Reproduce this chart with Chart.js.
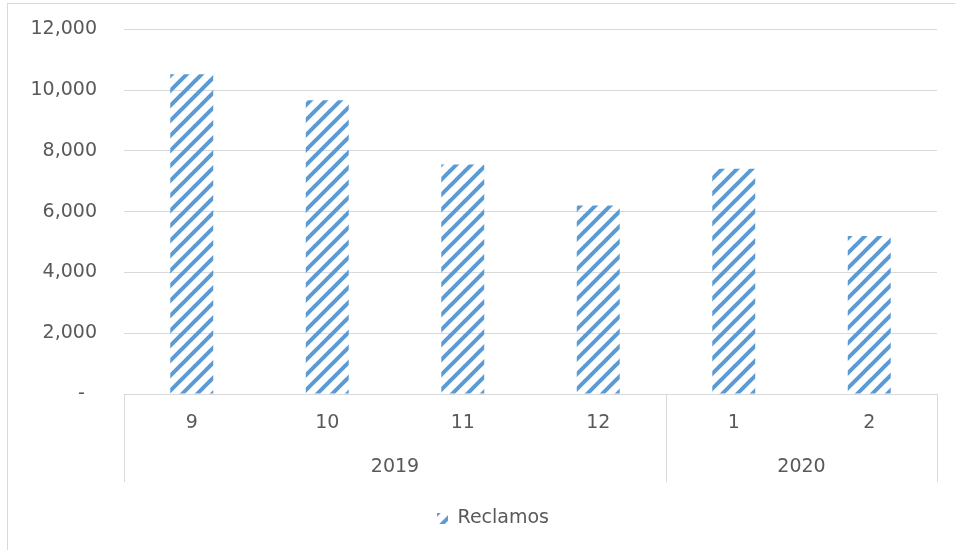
<!DOCTYPE html>
<html>
<head>
<meta charset="utf-8">
<script src="https://cdn.jsdelivr.net/npm/chart.js@4/dist/chart.umd.min.js"></script>
<style>
  html, body { margin: 0; padding: 0; background: #ffffff; overflow: hidden; width: 955px; height: 550px; }
  #frame { position: absolute; left: 7px; top: 3px; width: 1000px; height: 600px; border: 1px solid #d9d9d9; box-sizing: border-box; }
  #c { position: absolute; left: 0; top: -9px; }
</style>
</head>
<body>
<div id="frame"></div>
<canvas id="c" width="955" height="559"></canvas>
<script>
// ---- data ----
const months = ['9', '10', '11', '12', '1', '2'];
const monthYears = ['2019', '2019', '2019', '2019', '2020', '2020'];
const reclamos = [10520, 9670, 7550, 6200, 7410, 5200];
const seriesName = 'Reclamos';
const yTicks = [0, 2000, 4000, 6000, 8000, 10000, 12000];

// ---- year groups derived from monthYears ----
const yearGroups = [];
monthYears.forEach((y, i) => {
  const last = yearGroups[yearGroups.length - 1];
  if (last && last.label === y) { last.end = i; } else { yearGroups.push({ label: y, start: i, end: i }); }
});
// half-slot labels (2n+1 positions, no offset): group centre sits at index start+end+1
const yearSlots = new Array(months.length * 2 + 1).fill('');
yearGroups.forEach(g => { yearSlots[g.start + g.end + 1] = g.label; });

// ---- hatch pattern ----
function makeHatch(color) {
  const P = 15;
  const c = document.createElement('canvas');
  c.width = P; c.height = P;
  const g = c.getContext('2d');
  g.strokeStyle = color;
  g.lineWidth = 4;
  g.lineCap = 'square';
  for (let k = -1; k <= 1; k++) {
    g.beginPath();
    g.moveTo(k * P, P);
    g.lineTo(k * P + P, 0);
    g.stroke();
  }
  return document.getElementById('c').getContext('2d').createPattern(c, 'repeat');
}
const hatch = makeHatch('#5b9bd5');

const TEXT = '#595959';
const GRID = '#d9d9d9';
const FONT = { family: 'DejaVu Sans', size: 19 };

const separators = {
  id: 'separators',
  afterLayout(chart) {
    // Excel centres the legend in the full chart frame, which extends past the right edge
    const lg = chart.legend;
    if (lg) { lg.left += 24; lg.right += 24; lg.top += 2; lg.bottom += 2; }
  },
  afterDraw(chart) {
    const { ctx, chartArea } = chart;
    const x = chart.scales.x;
    const x2 = chart.scales.x2;
    const xs = [chartArea.left];
    yearGroups.forEach(g => {
      if (g.end < months.length - 1) {
        xs.push((x.getPixelForValue(g.end) + x.getPixelForValue(g.end + 1)) / 2);
      }
    });
    xs.push(chartArea.right);
    ctx.save();
    ctx.strokeStyle = GRID;
    ctx.lineWidth = 1;
    xs.forEach(px => {
      const xx = Math.round(px) + 0.5;
      ctx.beginPath();
      ctx.moveTo(xx, chartArea.bottom);
      ctx.lineTo(xx, x2.bottom);
      ctx.stroke();
    });
    ctx.restore();
  }
};

new Chart(document.getElementById('c'), {
  type: 'bar',
  data: {
    labels: months,
    datasets: [{
      label: seriesName,
      data: reclamos,
      xAxisID: 'x',
      backgroundColor: hatch,
      borderWidth: 0,
      categoryPercentage: 1,
      barPercentage: 0.317
    }]
  },
  options: {
    responsive: false,
    animation: false,
    layout: { autoPadding: false, padding: { left: 0, right: 17, top: 30, bottom: 14 } },
    plugins: {
      tooltip: { enabled: false },
      legend: {
        position: 'bottom',
        labels: { color: TEXT, font: FONT, boxWidth: 11, boxHeight: 11, padding: 25 }
      }
    },
    scales: {
      y: {
        min: 0,
        max: 12000,
        afterBuildTicks(s) { s.ticks = yTicks.map(v => ({ value: v })); },
        afterFit(s) { s.width = 124; },
        grid: { color: GRID, lineWidth: 1, drawTicks: false },
        border: { display: false },
        ticks: {
          color: TEXT, font: FONT, padding: 27,
          callback: v => v === 0 ? '-  ' : Number(v).toLocaleString('en-US')
        }
      },
      x: {
        type: 'category',
        position: 'bottom',
        afterFit(s) { s.height = 44; },
        grid: { display: false, drawTicks: false },
        border: { display: true, color: GRID, width: 1 },
        ticks: { color: TEXT, font: FONT, padding: 18, maxRotation: 0, autoSkip: false }
      },
      x2: {
        type: 'category',
        position: 'bottom',
        labels: yearSlots,
        offset: false,
        afterFit(s) { s.height = 44; },
        grid: { display: false, drawTicks: false, offset: false },
        border: { display: false },
        ticks: { color: TEXT, font: FONT, padding: 18, maxRotation: 0, autoSkip: false }
      }
    }
  },
  plugins: [separators]
});
</script>
</body>
</html>
